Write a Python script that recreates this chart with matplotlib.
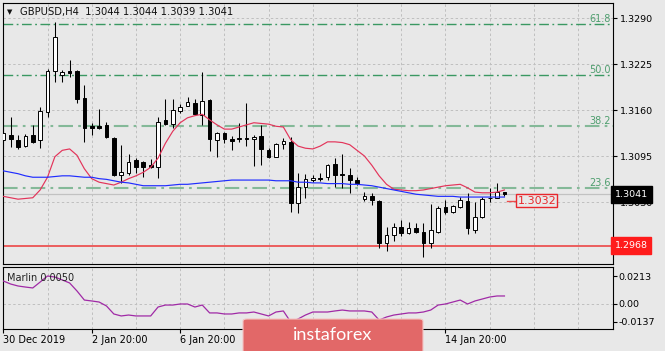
import numpy as np
import matplotlib
matplotlib.use("Agg")
import matplotlib.pyplot as plt
from matplotlib.patches import FancyBboxPatch
from matplotlib.transforms import blended_transform_factory

# GBPUSD H4 candles
opens = [1.3118, 1.3125, 1.3118, 1.3109, 1.3125, 1.3118, 1.3157, 1.3215, 1.3209, 1.3215,
         1.3215, 1.3177, 1.3137, 1.3137, 1.3139, 1.3120, 1.3068, 1.3071, 1.3089, 1.3087,
         1.3082, 1.3080, 1.3146, 1.3140, 1.3159, 1.3166, 1.3170, 1.3153, 1.3174, 1.3118,
         1.3127, 1.3119, 1.3119, 1.3120, 1.3119, 1.3123, 1.3104, 1.3094, 1.3112, 1.3115,
         1.3029, 1.3051, 1.3061, 1.3064, 1.3065, 1.3084, 1.3069, 1.3068, 1.3061, 1.3034,
         1.3038, 1.3031, 1.2972, 1.2983, 1.2995, 1.2986, 1.2993, 1.2988, 1.2972, 1.2988,
         1.3023, 1.3016, 1.3023, 1.3031, 1.2990, 1.3009, 1.3035, 1.3036, 1.3044]
highs = [1.3136, 1.3150, 1.3125, 1.3126, 1.3139, 1.3164, 1.3218, 1.3284, 1.3216, 1.3231,
         1.3216, 1.3195, 1.3142, 1.3161, 1.3143, 1.3122, 1.3111, 1.3098, 1.3092, 1.3088,
         1.3091, 1.3150, 1.3176, 1.3176, 1.3168, 1.3178, 1.3176, 1.3214, 1.3175, 1.3129,
         1.3129, 1.3123, 1.3142, 1.3170, 1.3125, 1.3139, 1.3106, 1.3113, 1.3120, 1.3122,
         1.3071, 1.3070, 1.3068, 1.3071, 1.3084, 1.3092, 1.3098, 1.3078, 1.3065, 1.3044,
         1.3043, 1.3033, 1.2995, 1.3000, 1.3005, 1.3002, 1.3000, 1.3000, 1.3027, 1.3024,
         1.3033, 1.3026, 1.3037, 1.3043, 1.3030, 1.3037, 1.3050, 1.3057, 1.3044]
lows = [1.3106, 1.3108, 1.3105, 1.3108, 1.3113, 1.3106, 1.3150, 1.3200, 1.3200, 1.3207,
        1.3170, 1.3115, 1.3125, 1.3133, 1.3120, 1.3067, 1.3057, 1.3068, 1.3071, 1.3065,
        1.3078, 1.3064, 1.3139, 1.3135, 1.3156, 1.3165, 1.3153, 1.3139, 1.3102, 1.3094,
        1.3113, 1.3104, 1.3115, 1.3109, 1.3081, 1.3082, 1.3092, 1.3093, 1.3105, 1.3016,
        1.3014, 1.3036, 1.3058, 1.3060, 1.3061, 1.3051, 1.3050, 1.3043, 1.3054, 1.3031,
        1.3026, 1.2965, 1.2961, 1.2975, 1.2982, 1.2985, 1.2986, 1.2952, 1.2965, 1.2986,
        1.3013, 1.3014, 1.3022, 1.2985, 1.2986, 1.3007, 1.3030, 1.3035, 1.3039]
closes = [1.3127, 1.3119, 1.3108, 1.3123, 1.3115, 1.3159, 1.3215, 1.3263, 1.3214, 1.3212,
          1.3176, 1.3135, 1.3135, 1.3135, 1.3122, 1.3068, 1.3072, 1.3087, 1.3080, 1.3080,
          1.3080, 1.3143, 1.3140, 1.3160, 1.3164, 1.3171, 1.3154, 1.3173, 1.3119, 1.3127,
          1.3119, 1.3116, 1.3120, 1.3119, 1.3122, 1.3105, 1.3094, 1.3112, 1.3116, 1.3029,
          1.3051, 1.3063, 1.3064, 1.3063, 1.3082, 1.3068, 1.3068, 1.3061, 1.3057, 1.3038,
          1.3033, 1.2972, 1.2983, 1.2995, 1.2986, 1.2993, 1.2988, 1.2972, 1.2990, 1.3022,
          1.3016, 1.3024, 1.3033, 1.2993, 1.3009, 1.3034, 1.3036, 1.3044, 1.3041]

ma_fast = [1.3038, 1.3036, 1.3034, 1.3035, 1.3036, 1.3047, 1.3065, 1.3094, 1.3103, 1.3105,
           1.3096, 1.3077, 1.3063, 1.3058, 1.3056, 1.3054, 1.3058, 1.3063, 1.3067, 1.3072,
           1.3079, 1.3092, 1.3113, 1.3130, 1.3142, 1.3149, 1.3152, 1.3154, 1.3146, 1.3139,
           1.3133, 1.3133, 1.3136, 1.3139, 1.3142, 1.3141, 1.3140, 1.3137, 1.3136, 1.3118,
           1.3109, 1.3106, 1.3105, 1.3109, 1.3115, 1.3115, 1.3114, 1.3111, 1.3103, 1.3095,
           1.3082, 1.3067, 1.3055, 1.3048, 1.3047, 1.3046, 1.3046, 1.3047, 1.3049, 1.3051,
           1.3053, 1.3054, 1.3055, 1.3050, 1.3044, 1.3043, 1.3043, 1.3044, 1.3047]
ma_slow = [1.3074, 1.3072, 1.3070, 1.3067, 1.3065, 1.3065, 1.3065, 1.3066, 1.3067, 1.3067,
           1.3066, 1.3065, 1.3065, 1.3063, 1.3062, 1.3060, 1.3058, 1.3057, 1.3055, 1.3053,
           1.3053, 1.3053, 1.3053, 1.3054, 1.3055, 1.3055, 1.3056, 1.3057, 1.3058, 1.3059,
           1.3060, 1.3061, 1.3061, 1.3061, 1.3061, 1.3061, 1.3061, 1.3060, 1.3060, 1.3060,
           1.3058, 1.3058, 1.3057, 1.3057, 1.3056, 1.3056, 1.3056, 1.3055, 1.3055, 1.3054,
           1.3053, 1.3051, 1.3049, 1.3047, 1.3045, 1.3043, 1.3041, 1.3040, 1.3039, 1.3038,
           1.3038, 1.3038, 1.3037, 1.3037, 1.3037, 1.3037, 1.3037, 1.3037, 1.3037]
marlin = [0.0175, 0.0152, 0.0137, 0.0129, 0.0122, 0.0167, 0.0213, 0.0205, 0.0183, 0.0160,
          0.0099, 0.0030, 0.0023, 0.0015, -0.0015, -0.0076, -0.0091, -0.0084, -0.0091, -0.0091,
          -0.0091, -0.0023, -0.0008, -0.0008, 0.0000, 0.0000, -0.0023, -0.0008, -0.0068, -0.0068,
          -0.0076, -0.0076, -0.0068, -0.0068, -0.0061, -0.0076, -0.0091, -0.0061, -0.0053, -0.0137,
          -0.0114, -0.0084, -0.0061, -0.0061, -0.0061, -0.0053, -0.0046, -0.0053, -0.0053, -0.0053,
          -0.0061, -0.0122, -0.0099, -0.0084, -0.0076, -0.0068, -0.0068, -0.0061, -0.0046, -0.0008,
          0.0000, 0.0015, 0.0030, 0.0000, 0.0023, 0.0038, 0.0053, 0.0061, 0.0061]

fib_levels = [1.3282, 1.3209, 1.3137, 1.3050]
fib_names = ["61.8", "50.0", "38.2", "23.6"]
price_ticks = [1.3290, 1.3225, 1.3160, 1.3095, 1.3030]
marlin_ticks = [0.0213, 0.0, -0.0137]
marlin_tick_labels = ["0.0213", "0.00", "-0.0137"]
time_ticks = [0, 12, 24, 36, 48, 60]
# the two middle labels sit under the watermark and are not visible
time_labels = ["30 Dec 2019", "2 Jan 20:00", "6 Jan 20:00", "", "", "14 Jan 20:00"]
bid = 1.3041
support = 1.2968
ma_label = 1.3032

W, H = 665, 351
bg = "#e8e8e8"
grid_c = "#bfbfbf"


def px_rect(x0, y0, x1, y1):
    return [x0 / W, 1 - y1 / H, (x1 - x0) / W, (y1 - y0) / H]


fig = plt.figure(figsize=(W / 100, H / 100), dpi=100)
fig.patch.set_facecolor(bg)
ax = fig.add_axes(px_rect(2.7, 3, 612.7, 264))
sub = fig.add_axes(px_rect(2.7, 267, 612.7, 329), sharex=ax)

for a in (ax, sub):
    a.set_facecolor(bg)
    for s in a.spines.values():
        s.set_color("black")
        s.set_linewidth(0.8)
    for i in range(0, 84, 6):
        a.axvline(i, color=grid_c, lw=0.7, ls=(0, (2.5, 2.5)), zorder=0.5)

# candles
x = np.arange(len(opens))
o = np.array(opens)
c = np.array(closes)
up = c >= o
ax.vlines(x, lows, highs, color="black", lw=0.75, zorder=3)
ax.bar(x, np.maximum(np.abs(c - o), 0.00002), bottom=np.minimum(o, c), width=0.5,
       color=np.where(up, "white", "black"), edgecolor="black", lw=0.7, zorder=4)

ax.plot(x, ma_fast, color="#e3345a", lw=0.85, zorder=5)
ax.plot(x, ma_slow, color="#1f2cff", lw=0.85, zorder=5)

for t in price_ticks:
    ax.axhline(t, color=grid_c, lw=0.7, ls=(0, (2.5, 2.5)), zorder=0.5)

tr = blended_transform_factory(ax.transAxes, ax.transData)
fib_cols = ["#3a9862", "#3a9862", "#84b998", "#84b998"]
fib_lw = [1.0, 1.0, 1.5, 1.5]
for lev, name, col, lw in zip(fib_levels, fib_names, fib_cols, fib_lw):
    ax.axhline(lev, color=col, lw=lw, dashes=(7, 2.5, 1.3, 2.5), zorder=2)
    ax.text(0.997, lev, name, transform=tr, ha="right", va="bottom",
            fontsize=7, color="#4e9e6e", zorder=6)

ax.axhline(bid, color="#c2c2c2", lw=0.9, zorder=1)
ax.axhline(support, color="#ec4646", lw=1.2, zorder=2)

# MA value tag
ax.plot([68.3, 69.6], [ma_label, ma_label], color="#ee4a4a", lw=1.0, zorder=6)
ax.text(69.75, ma_label, "1.3032", ha="left", va="center", fontsize=8, color="#e8262c",
        zorder=7, bbox=dict(boxstyle="square,pad=0.12", fc=bg, ec="#e8262c", lw=1.0))

ax.set_xlim(-0.08, 82.69)
ax.set_ylim(1.29424, 1.33112)
ax.yaxis.tick_right()
ax.set_yticks(price_ticks)
ax.set_yticklabels([f"{t:.4f}" for t in price_ticks])
ax.tick_params(axis="y", length=3, width=0.8, pad=2.5, labelsize=6.8, colors="black")
ax.tick_params(axis="x", bottom=False, labelbottom=False)

ax.text(1.003, bid, "1.3041", transform=tr, ha="left", va="center", fontsize=6.8,
        color="white", zorder=10, clip_on=False,
        bbox=dict(boxstyle="square,pad=0.42", fc="black", ec="black"))
ax.text(1.003, support, "1.2968", transform=tr, ha="left", va="center", fontsize=6.8,
        color="white", zorder=10, clip_on=False,
        bbox=dict(boxstyle="square,pad=0.42", fc="#ff1c1c", ec="#ff1c1c"))

# Marlin sub window
sub.plot(x, marlin, color="#a02aa6", lw=0.9, zorder=3)
sub.axhline(0, color=grid_c, lw=0.7, ls=(0, (2.5, 2.5)), zorder=0.5)
sub.set_ylim(-0.01903, 0.02815)
sub.yaxis.tick_right()
sub.set_yticks(marlin_ticks)
sub.set_yticklabels(marlin_tick_labels)
sub.tick_params(axis="y", length=3, width=0.8, pad=1.0, labelsize=6.8)
sub.set_xticks(time_ticks)
sub.set_xticklabels(time_labels, ha="left")
sub.tick_params(axis="x", length=3, width=0.8, pad=1.5, labelsize=7)
sub.text(0.0075, 0.82, "Marlin 0.0050", transform=sub.transAxes, ha="left", va="center",
         fontsize=7, color="#222222")

fig.text(10 / W, 1 - 12 / H, "\u25bc", ha="center", va="center", fontsize=5, color="#111111")
fig.text(20 / W, 1 - 12 / H, "GBPUSD,H4  1.3044 1.3044 1.3039 1.3041", ha="left",
         va="center", fontsize=7.2, color="#111111")

# watermark
logo = FancyBboxPatch((243 / W, -0.05), 180 / W, (1 - 319 / H) + 0.05,
                      boxstyle="round,pad=0,rounding_size=0.006",
                      transform=fig.transFigure, fc="#e26868", ec="#f3c4c4", lw=0.8,
                      zorder=20)
fig.add_artist(logo)
fig.text(333 / W, 1 - 335 / H, "instaforex", ha="center", va="center", fontsize=13,
         color="white", family="Lato", zorder=21)

fig.savefig("out.png", dpi=100, facecolor=bg)
